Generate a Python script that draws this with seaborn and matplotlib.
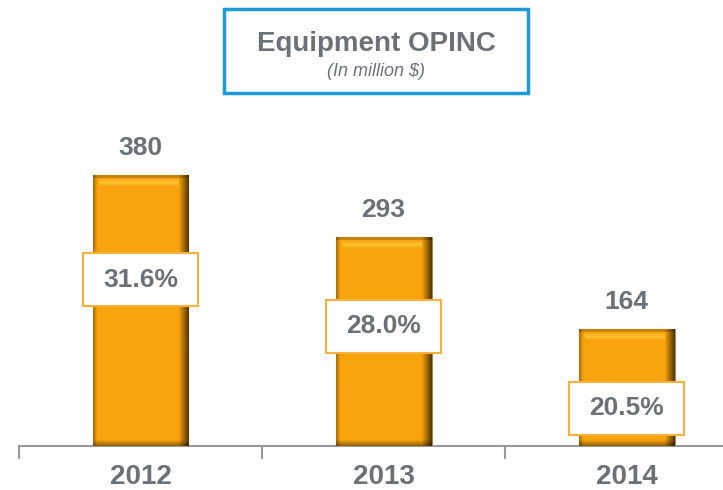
import numpy as np
import pandas as pd
import matplotlib
matplotlib.use('Agg')
import matplotlib.pyplot as plt
import seaborn as sns
from matplotlib.patches import Rectangle
from matplotlib.colors import to_rgb

# data
years = ['2012', '2013', '2014']
opinc = [380, 293, 164]
margins = ['31.6%', '28.0%', '20.5%']

df = pd.DataFrame({'year': years, 'opinc': opinc})

sns.set_style('white')
plt.rcParams['font.family'] = ['Liberation Sans', 'DejaVu Sans']

grey = '#6b7178'
orange = '#f9a40e'

fig = plt.figure(figsize=(7.23, 4.9), dpi=100)
ax = fig.add_axes([19 / 723, 44 / 490, 704 / 723, 446 / 490])
sns.barplot(data=df, x='year', y='opinc', color=orange, width=0.395,
            saturation=1, edgecolor='#9a8a70', linewidth=0.8, ax=ax, zorder=2)
ax.set_xlim(-0.5, 2.397)
ax.set_ylim(0, 625.5)


def bar_shade(w, h):
    # fake 3D bevel look of the bars
    base = np.array(to_rgb(orange))
    light = np.array(to_rgb('#ffd84a'))
    img = np.ones((h, w, 3)) * base
    fx = np.ones(w)
    fx[-10:] = np.linspace(0.95, 0.35, 10)
    fx[:5] = np.linspace(0.7, 1, 5)
    img *= fx[None, :, None]
    # highlight band near top
    for r in range(4, 11):
        k = 0.6 * (1 - abs(r - 7) / 4)
        img[r, 6:-10] = img[r, 6:-10] * (1 - k) + light * k
    img[:3] *= 0.8
    img[-6:] *= np.linspace(0.95, 0.6, 6)[:, None, None]
    return np.clip(img, 0, 1)


px_per_unit = 446 / 625.5
for patch in ax.patches:
    x0, w = patch.get_x(), patch.get_width()
    h = patch.get_height()
    img = bar_shade(96, max(int(h * px_per_unit), 20))
    im = ax.imshow(img, extent=(x0, x0 + w, 0, h), aspect='auto',
                   origin='upper', zorder=3)
    im.set_clip_path(patch)

# value labels above bars
for i, v in enumerate(opinc):
    ax.text(i, v + 38, str(v), ha='center', va='center', fontsize=19,
            fontweight='bold', color=grey, zorder=5)

# margin boxes
box_y = [233, 168, 53]
for i, (lab, y) in enumerate(zip(margins, box_y)):
    ax.add_patch(Rectangle((i - 0.2385, y - 37), 0.477, 74, facecolor='white',
                           edgecolor='#f8b23c', lw=1.5, zorder=4))
    ax.text(i, y, lab, ha='center', va='center', fontsize=19,
            fontweight='bold', color=grey, zorder=5)

for s in ['left', 'right', 'top']:
    ax.spines[s].set_visible(False)
ax.spines['bottom'].set_color('#999999')
ax.spines['bottom'].set_linewidth(1.5)
ax.set_yticks([])
ax.set_xticks([-0.5, 0.5, 1.5], minor=True)
ax.tick_params(axis='x', which='minor', bottom=True, length=9, width=1.5,
               color='#999999', direction='out')
ax.tick_params(axis='x', which='major', bottom=True, length=0, pad=13,
               labelsize=20, labelcolor=grey)
for t in ax.get_xticklabels():
    t.set_fontweight('bold')
ax.set_xlabel('')
ax.set_ylabel('')

# title box
fig.add_artist(Rectangle((224 / 723, 397 / 490), 304 / 723, 84 / 490,
                         transform=fig.transFigure, fill=False,
                         edgecolor='#1d9bd7', lw=2.5))
fig.text(376 / 723, 1 - 44 / 490, 'Equipment OPINC', ha='center', va='center',
         fontsize=20, fontweight='bold', color=grey)
fig.text(376 / 723, 1 - 71 / 490, '(In million $)', ha='center', va='center',
         fontsize=13, style='italic', color=grey)

fig.savefig('out.png', dpi=100)
